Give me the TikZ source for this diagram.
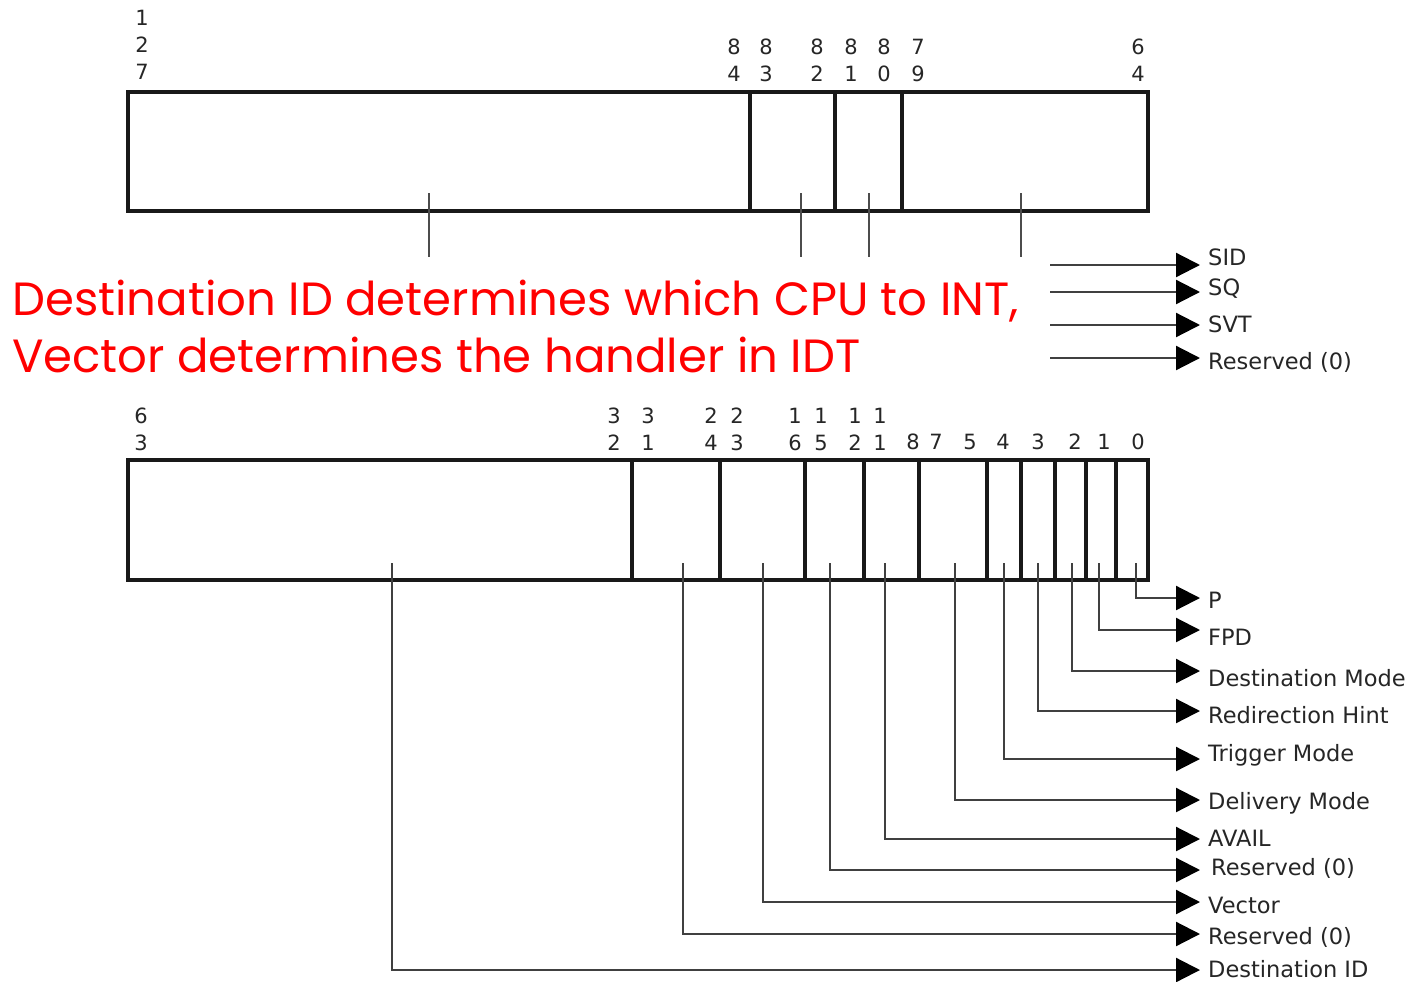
\documentclass[tikz,border=0pt]{standalone}
\usepackage{fontspec}
\setmainfont{DejaVu Sans}
\newfontfamily\redfont{Poppins}
\usetikzlibrary{arrows.meta}
\begin{document}
\begin{tikzpicture}[x=1pt,y=-1pt,
  boxline/.style={line width=3.2pt,black!90},
  tick/.style={line width=2.2pt,black!70},
  conn/.style={line width=2.2pt,black!75,-{Triangle[length=24pt,width=24pt,black]}},
  bit/.style={font=\fontsize{21}{27}\selectfont,align=center,inner sep=0pt,text=black!85},
  lab/.style={font=\fontsize{22.5}{24}\selectfont,anchor=west,inner xsep=8pt,inner ysep=0pt,text=black!85}]
\useasboundingbox (0,0) rectangle (1416,982);
% ---------- top register ----------
\draw[boxline] (128,92) rectangle (1148,211);
\foreach \x in {750,835,902} \draw[boxline] (\x,92) -- (\x,211);
\node[bit] (t127) at (142,45) {1\\2\\7};
\node[bit] (t84) at (734,60.5) {8\\4};
\node[bit] (t83) at (766,60.5) {8\\3};
\node[bit] (t82) at (817,60.5) {8\\2};
\node[bit] (t81) at (851,60.5) {8\\1};
\node[bit] (t80) at (884,60.5) {8\\0};
\node[bit] (t79) at (918,60.5) {7\\9};
\node[bit] (t64) at (1138,60.5) {6\\4};
\foreach \x [count=\i] in {429,801,869,1021}{
  \coordinate (ta\i) at (\x,193);
  \coordinate (tb\i) at (\x,257);
  \draw[tick] (ta\i) -- (tb\i);
}
% top labels
\node[lab] (lSID) at (1200,257) {SID};
\node[lab] (lSQ) at (1200,289) {SQ};
\node[lab] (lSVT) at (1200,324) {SVT};
\node[lab] (lRes1) at (1200,362) {Reserved (0)};
\coordinate (sSID) at (1050,265);
\coordinate (sSQ) at (1050,292);
\coordinate (sSVT) at (1050,325);
\coordinate (sRes1) at (1050,358);
\draw[conn] (sSID) -- (sSID -| lSID.west);
\draw[conn] (sSQ) -- (sSQ -| lSQ.west);
\draw[conn] (sSVT) -- (sSVT -| lSVT.west);
\draw[conn] (sRes1) -- (sRes1 -| lRes1.west);
% ---------- red text ----------
\node[font=\redfont\fontsize{46.6}{57}\selectfont,text=red,align=left,anchor=west,inner sep=0pt] (note) at (12,326.5)
  {Destination ID determines which CPU to INT,\\Vector determines the handler in IDT};
% ---------- bottom register ----------
\draw[boxline] (128,460) rectangle (1148,580);
\foreach \x in {632,720,805,864,919,987,1021,1055,1086,1116} \draw[boxline] (\x,460) -- (\x,580);
\node[bit] (b63) at (141,429) {6\\3};
\node[bit] (b32) at (614,429) {3\\2};
\node[bit] (b31) at (648,429) {3\\1};
\node[bit] (b24) at (711,429) {2\\4};
\node[bit] (b23) at (737,429) {2\\3};
\node[bit] (b16) at (795,429) {1\\6};
\node[bit] (b15) at (821,429) {1\\5};
\node[bit] (b12) at (855,429) {1\\2};
\node[bit] (b11) at (880,429) {1\\1};
\node[bit] (b8) at (913,442) {8};
\node[bit] (b7) at (936,442) {7};
\node[bit] (b5) at (970,442) {5};
\node[bit] (b4) at (1003,442) {4};
\node[bit] (b3) at (1038,442) {3};
\node[bit] (b2) at (1075,442) {2};
\node[bit] (b1) at (1104,442) {1};
\node[bit] (b0) at (1138,442) {0};
% bottom labels
\node[lab] (lP) at (1200,600) {P};
\node[lab] (lFPD) at (1200,637) {FPD};
\node[lab] (lDM) at (1200,678) {Destination Mode};
\node[lab] (lRH) at (1200,715) {Redirection Hint};
\node[lab] (lTM) at (1200,755) {Trigger Mode};
\node[lab] (lDel) at (1200,803) {Delivery Mode};
\node[lab] (lAV) at (1200,838) {AVAIL};
\node[lab,inner xsep=11pt] (lRes2) at (1200,868) {Reserved (0)};
\node[lab] (lVec) at (1200,905) {Vector};
\node[lab] (lRes3) at (1200,937) {Reserved (0)};
\node[lab] (lDID) at (1200,969) {Destination ID};
\coordinate (cP) at (1136,563);
\coordinate (cFPD) at (1099,563);
\coordinate (cDM) at (1072,563);
\coordinate (cRH) at (1038,563);
\coordinate (cTM) at (1004,563);
\coordinate (cDel) at (955,563);
\coordinate (cAV) at (885,563);
\coordinate (cRes2) at (830,563);
\coordinate (cVec) at (763,563);
\coordinate (cRes3) at (683,563);
\coordinate (cDID) at (392,563);
\draw[conn] (cP) |- (1200,598);
\draw[conn] (cFPD) |- (1200,630);
\draw[conn] (cDM) |- (1200,671);
\draw[conn] (cRH) |- (1200,711);
\draw[conn] (cTM) |- (1200,759);
\draw[conn] (cDel) |- (1200,800);
\draw[conn] (cAV) |- (1200,839);
\draw[conn] (cRes2) |- (1200,870);
\draw[conn] (cVec) |- (1200,902);
\draw[conn] (cRes3) |- (1200,934);
\draw[conn] (cDID) |- (1200,970);
\end{tikzpicture}
\end{document}
